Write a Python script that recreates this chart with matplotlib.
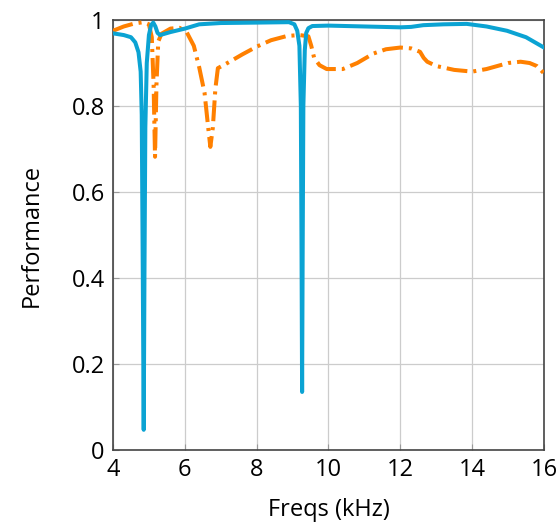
import matplotlib
matplotlib.use('Agg')
import matplotlib.pyplot as plt

plt.rcParams['font.family'] = ['Open Sans', 'DejaVu Sans']
plt.rcParams['lines.scale_dashes'] = False

# blue (solid) series
freq_a = [4.0, 4.3, 4.5, 4.62, 4.71, 4.77, 4.80, 4.83, 4.855, 4.875, 4.9, 4.94, 5.0,
          5.06, 5.12, 5.18, 5.24, 5.31, 5.6, 6.0, 6.4, 7.0, 8.0, 8.9, 9.05, 9.13,
          9.19, 9.23, 9.25, 9.265, 9.28, 9.30, 9.34, 9.38, 9.44, 9.55, 10.0, 11.0,
          12.0, 12.3, 12.64, 13.2, 13.85, 14.4, 14.97, 15.5, 16.0]
perf_a = [0.969, 0.965, 0.96, 0.948, 0.925, 0.88, 0.78, 0.4, 0.047, 0.4, 0.75, 0.9, 0.965,
          0.988, 0.994, 0.985, 0.97, 0.965, 0.972, 0.98, 0.99, 0.993, 0.994, 0.995, 0.99, 0.975,
          0.94, 0.8, 0.45, 0.135, 0.45, 0.8, 0.93, 0.97, 0.981, 0.986, 0.987, 0.985,
          0.983, 0.984, 0.988, 0.99, 0.991, 0.985, 0.975, 0.96, 0.936]

# orange (dash-dot) series
freq_b = [4.0, 4.3, 4.6, 4.85, 5.0, 5.08, 5.13, 5.17, 5.21, 5.26, 5.35, 5.6, 5.85,
          6.05, 6.25, 6.4, 6.55, 6.65, 6.71, 6.78, 6.85, 6.92, 7.25, 7.6, 8.0, 8.4,
          8.85, 9.2, 9.44, 9.52, 9.6, 9.75, 9.95, 10.4, 10.8, 11.25, 11.6, 12.0, 12.3,
          12.55, 12.65, 12.75, 13.0, 13.5, 14.0, 14.4, 14.7, 15.0, 15.35, 15.6, 15.8, 16.0]
perf_b = [0.975, 0.985, 0.992, 0.995, 0.99, 0.96, 0.85, 0.682, 0.85, 0.95, 0.968, 0.98, 0.982,
          0.972, 0.94, 0.89, 0.83, 0.75, 0.705, 0.75, 0.84, 0.888, 0.903, 0.92, 0.938, 0.953,
          0.963, 0.965, 0.962, 0.94, 0.912, 0.895, 0.886, 0.886, 0.9, 0.922, 0.932, 0.936, 0.934,
          0.926, 0.912, 0.903, 0.893, 0.884, 0.880, 0.886, 0.893, 0.9, 0.903, 0.9, 0.893, 0.876]

x_ticks = [4, 6, 8, 10, 12, 14, 16]
y_ticks = [0, 0.2, 0.4, 0.6, 0.8, 1]
y_ticklabels = ['0', '0.2', '0.4', '0.6', '0.8', '1']

fig = plt.figure(figsize=(5.6, 5.24), dpi=100)
ax = fig.add_axes([0.2018, 0.1412, 0.9714 - 0.2018, 0.9618 - 0.1412])

ax.plot(freq_b, perf_b, color='#ff8000', linewidth=2.9,
        linestyle=(0, (15, 4.3, 2.2, 4.3)), zorder=3)
ax.plot(freq_a, perf_a, color='#0ba3d3', linewidth=2.9, solid_joinstyle='round', zorder=4)

ax.set_xlim(4, 16)
ax.set_ylim(0, 1)
ax.set_xticks(x_ticks)
ax.set_yticks(y_ticks)
ax.set_yticklabels(y_ticklabels)
ax.grid(True, color='#cccccc', linewidth=0.9)
ax.set_axisbelow(True)

ax.tick_params(direction='in', length=4, color='#999999', labelsize=17, pad=6)
for s in ax.spines.values():
    s.set_color('#444444')
    s.set_linewidth(1.2)

ax.set_xlabel('Freqs (kHz)', fontsize=17, labelpad=11)
ax.set_ylabel('Performance', fontsize=17, labelpad=20)

fig.savefig('out.png', dpi=100)
